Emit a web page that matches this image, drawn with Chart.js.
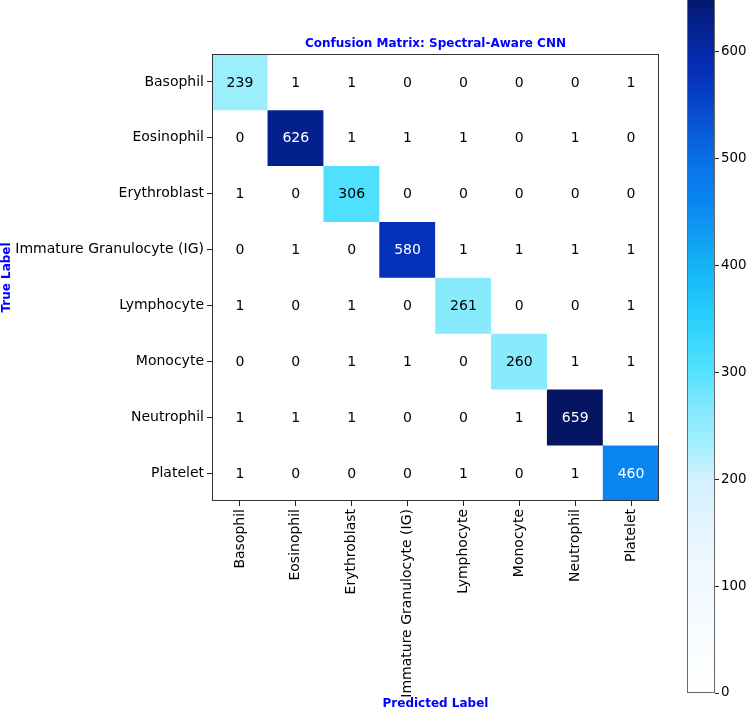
<!DOCTYPE html>
<html>
<head>
<meta charset="utf-8">
<script src="https://cdn.jsdelivr.net/npm/chart.js@4.4.0/dist/chart.umd.min.js"></script>
<style>
    html, body { margin: 0; padding: 0; background: #fff; overflow: hidden; }
    #matrix-wrapper { position: absolute; left: 0; top: 0; width: 748px; height: 711px; }
    #colorbar-wrapper { position: absolute; left: 687px; top: -12px; width: 61px; height: 715px; }
</style>
</head>
<body>
<div id="matrix-wrapper"><canvas id="matrixChart"></canvas></div>
<div id="colorbar-wrapper"><canvas id="colorbarChart"></canvas></div>
<script>
// Data
const predictedLabels = ['Basophil', 'Eosinophil', 'Erythroblast', 'Immature Granulocyte (IG)', 'Lymphocyte', 'Monocyte', 'Neutrophil', 'Platelet'];
const trueLabels = ['Basophil', 'Eosinophil', 'Erythroblast', 'Immature Granulocyte (IG)', 'Lymphocyte', 'Monocyte', 'Neutrophil', 'Platelet'];

const rowBasophil     = [239, 1, 1, 0, 0, 0, 0, 1];
const rowEosinophil   = [0, 626, 1, 1, 1, 0, 1, 0];
const rowErythroblast = [1, 0, 306, 0, 0, 0, 0, 0];
const rowIG           = [0, 1, 0, 580, 1, 1, 1, 1];
const rowLymphocyte   = [1, 0, 1, 0, 261, 0, 0, 1];
const rowMonocyte     = [0, 0, 1, 1, 0, 260, 1, 1];
const rowNeutrophil   = [1, 1, 1, 0, 0, 1, 659, 1];
const rowPlatelet     = [1, 0, 0, 0, 1, 0, 1, 460];

const colorbarTicks = [0, 100, 200, 300, 400, 500, 600];

const matrix = [rowBasophil, rowEosinophil, rowErythroblast, rowIG, rowLymphocyte, rowMonocyte, rowNeutrophil, rowPlatelet];
const vmax = Math.max(...matrix.flat());
const threshold = vmax / 2;

// colormap stops (fraction of vmax -> rgb)
const cmapStops = [
    [0.00, [255, 255, 255]],
    [0.20, [236, 247, 255]],
    [0.30, [212, 240, 255]],
    [0.36, [157, 239, 253]],
    [0.40, [134, 233, 253]],
    [0.464, [78, 224, 253]],
    [0.53, [42, 208, 253]],
    [0.60, [22, 182, 246]],
    [0.698, [10, 133, 240]],
    [0.76, [8, 110, 230]],
    [0.88, [5, 48, 184]],
    [0.95, [4, 32, 140]],
    [1.00, [4, 20, 96]]
];

function cmap(t) {
    t = Math.max(0, Math.min(1, t));
    for (let i = 1; i < cmapStops.length; i++) {
        const [t1, c1] = cmapStops[i];
        const [t0, c0] = cmapStops[i - 1];
        if (t <= t1) {
            const f = (t - t0) / (t1 - t0);
            const c = c0.map((v, k) => Math.round(v + (c1[k] - v) * f));
            return `rgb(${c[0]},${c[1]},${c[2]})`;
        }
    }
    return 'rgb(4,20,96)';
}

const tickFont = { family: 'DejaVu Sans', size: 14 };
const labelFont = { family: 'DejaVu Sans', size: 12, weight: 'bold' };

// Plugins
const framePlugin = {
    id: 'frame',
    afterDraw(chart, args, options) {
        const { ctx, chartArea: a } = chart;
        ctx.save();
        ctx.strokeStyle = options.color || '#222';
        ctx.lineWidth = 1;
        ctx.strokeRect(Math.round(a.left) + 0.5, Math.round(a.top) + 0.5, Math.round(a.width) - 1, Math.round(a.height) - 1);
        ctx.restore();
    }
};

const cellTextPlugin = {
    id: 'cellText',
    afterDatasetsDraw(chart) {
        const ctx = chart.ctx;
        ctx.save();
        ctx.font = `${tickFont.size}px "DejaVu Sans"`;
        ctx.textAlign = 'center';
        ctx.textBaseline = 'middle';
        chart.data.datasets.forEach((ds, i) => {
            chart.getDatasetMeta(i).data.forEach((bar, j) => {
                const v = ds.counts[j];
                const p = bar.getCenterPoint();
                ctx.fillStyle = v > threshold ? '#ffffff' : '#000000';
                ctx.fillText(String(v), p.x, p.y + 1);
            });
        });
        ctx.restore();
    }
};

// Matrix chart: one floating-bar dataset per true-label row
const datasets = matrix.map((row, i) => ({
    label: trueLabels[i],
    data: predictedLabels.map(() => [i, i + 1]),
    counts: row,
    backgroundColor: row.map(v => cmap(v / vmax)),
    borderWidth: 0,
    borderSkipped: false,
    categoryPercentage: 1,
    barPercentage: 1,
    grouped: false
}));

const matrixChart = new Chart(document.getElementById('matrixChart').getContext('2d'), {
    type: 'bar',
    data: { labels: predictedLabels, datasets: datasets },
    options: {
        responsive: true,
        maintainAspectRatio: false,
        animation: false,
        layout: { padding: { top: 36.8, right: 89, left: 0, bottom: 0 } },
        plugins: {
            legend: { display: false },
            tooltip: { enabled: false },
            title: {
                display: true,
                text: 'Confusion Matrix: Spectral-Aware CNN',
                color: '#0000ff',
                font: labelFont,
                padding: { top: 0, bottom: 2.8 },
                fullSize: false
            },
            frame: { color: '#333' }
        },
        scales: {
            x: {
                type: 'category',
                offset: true,
                grid: { offset: false, drawOnChartArea: false, tickLength: 5, color: '#222' },
                border: { display: false },
                ticks: { autoSkip: false, maxRotation: 90, minRotation: 90, color: '#000', font: tickFont, padding: 3 },
                title: { display: true, text: 'Predicted Label', color: '#0000ff', font: labelFont, padding: { top: 0, bottom: 0 } },
                afterFit(s) { s.height = 210; s.paddingLeft = 0; s.paddingRight = 0; }
            },
            y: {
                type: 'linear',
                min: 0,
                max: 8,
                reverse: true,
                afterBuildTicks(s) { s.ticks = trueLabels.map((_, i) => ({ value: i + 0.5 })); },
                ticks: { callback: v => trueLabels[Math.floor(v)], color: '#000', font: tickFont, padding: 3 },
                grid: { drawOnChartArea: false, tickLength: 5, color: '#222' },
                border: { display: false },
                title: { display: true, text: 'True Label', color: '#0000ff', font: labelFont, padding: { top: 0, bottom: 0 } },
                afterFit(s) { s.width = 212; s.paddingTop = 0; s.paddingBottom = 0; }
            }
        }
    },
    plugins: [cellTextPlugin, framePlugin]
});

// Colorbar chart
const colorbarChart = new Chart(document.getElementById('colorbarChart').getContext('2d'), {
    type: 'bar',
    data: {
        labels: [''],
        datasets: [{
            data: [[0, vmax]],
            backgroundColor: (c) => {
                const area = c.chart.chartArea;
                if (!area) return null;
                const g = c.chart.ctx.createLinearGradient(0, area.bottom, 0, area.top);
                cmapStops.forEach(([t, rgb]) => g.addColorStop(t, `rgb(${rgb[0]},${rgb[1]},${rgb[2]})`));
                return g;
            },
            borderWidth: 0,
            borderSkipped: false,
            categoryPercentage: 1,
            barPercentage: 1
        }]
    },
    options: {
        responsive: true,
        maintainAspectRatio: false,
        animation: false,
        layout: { padding: { top: 0, bottom: 10, left: 0, right: 0 } },
        plugins: {
            legend: { display: false },
            tooltip: { enabled: false },
            frame: { color: '#666' }
        },
        scales: {
            x: { display: false },
            y: {
                position: 'right',
                min: 0,
                max: vmax,
                afterBuildTicks(s) { s.ticks = colorbarTicks.map(v => ({ value: v })); },
                ticks: { color: '#000', font: { family: 'DejaVu Sans', size: 13.4 }, padding: 2 },
                grid: { drawOnChartArea: false, tickLength: 4, color: '#222' },
                border: { display: false },
                afterFit(s) { s.width = 33; s.paddingTop = 0; s.paddingBottom = 0; }
            }
        }
    },
    plugins: [framePlugin]
});
</script>
</body>
</html>
